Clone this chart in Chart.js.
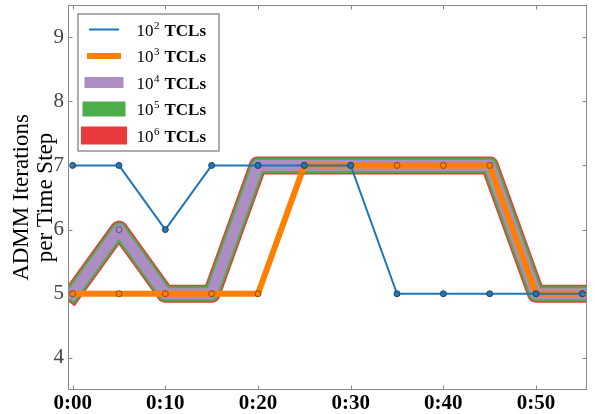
<!DOCTYPE html>
<html>
<head>
<meta charset="utf-8">
<script src="https://cdn.jsdelivr.net/npm/chart.js@4/dist/chart.umd.min.js"></script>
<style>
    html, body { margin: 0; padding: 0; background: #fff; }
    #wrap { width: 595px; height: 414px; position: relative; }
</style>
</head>
<body>
<div id="wrap"><canvas id="chart"></canvas></div>
<script>
// minutes after start, one point every 5 minutes
const timeMinutes = [0, 5, 10, 15, 20, 25, 30, 35, 40, 45, 50, 55];
const iters1e2 = [7, 7, 6, 7, 7, 7, 7, 5, 5, 5, 5, 5];
const iters1e3 = [5, 5, 5, 5, 5, 7, 7, 7, 7, 7, 5, 5];
const iters1e4 = [5, 6, 5, 5, 7, 7, 7, 7, 7, 7, 5, 5];
const iters1e5 = [5, 6, 5, 5, 7, 7, 7, 7, 7, 7, 5, 5];
const iters1e6 = [5, 6, 5, 5, 7, 7, 7, 7, 7, 7, 5, 5];
const tclExponents = ['2', '3', '4', '5', '6'];
const xTickValues = [0, 10, 20, 30, 40, 50];
const xTickLabels = ['0:00', '0:10', '0:20', '0:30', '0:40', '0:50'];
const yTickValues = [4, 5, 6, 7, 8, 9];
const yTitle = ['ADMM Iterations', 'per Time Step'];

(function () {
    var SERIF = "'Liberation Serif', 'DejaVu Serif', serif";
    var FRAME = '#888888';

    // drawn top to bottom: first dataset ends up on top
    var series = [
        { data: iters1e2, color: '#1f77b4', edge: '#16466b', width: 2 },
        { data: iters1e3, color: '#ff7f00', edge: '#8a4a12', width: 6 },
        { data: iters1e4, color: '#ad8ec4', edge: '#5f4e6e', width: 11 },
        { data: iters1e5, color: '#4dae49', edge: '#2b5f29', width: 15 },
        { data: iters1e6, color: '#e8393d', edge: '#7e2022', width: 18 },
    ];

    var datasets = series.map(function (s, i) {
        return {
            label: '10^' + tclExponents[i] + ' TCLs',
            data: s.data.map(function (v, j) {
                return { x: timeMinutes[j], y: v };
            }),
            borderColor: s.color,
            backgroundColor: s.color,
            borderWidth: s.width,
            borderJoinStyle: 'round',
            borderCapStyle: 'square',
            pointRadius: 3,
            pointBorderWidth: 1,
            pointBackgroundColor: s.color,
            pointBorderColor: s.edge,
            tension: 0,
            fill: false,
            clip: 0,
        };
    });

    // no extra room for half-labels, the plot box is fixed
    function noLabelPadding(scale) {
        scale.paddingTop = 0;
        scale.paddingBottom = 0;
        scale.paddingLeft = 0;
        scale.paddingRight = 0;
    }

    var framePlugin = {
        id: 'frame',
        afterDatasetsDraw: function (chart) {
            var ctx = chart.ctx;
            var a = chart.chartArea;
            var xs = chart.scales.x, ys = chart.scales.y;
            var l = Math.floor(a.left) + 0.5, r = Math.floor(a.right) - 0.5;
            var t = Math.floor(a.top) + 0.5, b = Math.floor(a.bottom) - 0.5;
            ctx.save();
            ctx.strokeStyle = FRAME;
            ctx.lineWidth = 1;
            ctx.strokeRect(l, t, r - l, b - t);
            ctx.beginPath();
            xTickValues.forEach(function (v) {
                var px = Math.round(xs.getPixelForValue(v)) + 0.5;
                ctx.moveTo(px, b); ctx.lineTo(px, b - 4);
                ctx.moveTo(px, t); ctx.lineTo(px, t + 4);
            });
            yTickValues.forEach(function (v) {
                var py = Math.round(ys.getPixelForValue(v)) + 0.5;
                ctx.moveTo(l, py); ctx.lineTo(l + 4, py);
                ctx.moveTo(r, py); ctx.lineTo(r - 4, py);
            });
            ctx.stroke();
            ctx.restore();
        },
    };

    var legendPlugin = {
        id: 'texLegend',
        afterDraw: function (chart) {
            var ctx = chart.ctx;
            ctx.save();
            ctx.fillStyle = '#fff';
            ctx.fillRect(78, 14, 141, 137);
            ctx.strokeStyle = '#777';
            ctx.lineWidth = 1.2;
            ctx.strokeRect(78, 14, 141, 137);
            chart.data.datasets.forEach(function (ds, i) {
                var y = 29.5 + i * 26.5;
                ctx.beginPath();
                ctx.strokeStyle = ds.borderColor;
                ctx.lineWidth = ds.borderWidth;
                ctx.lineCap = 'square';
                ctx.moveTo(90, y);
                ctx.lineTo(118, y);
                ctx.stroke();

                ctx.fillStyle = '#000';
                ctx.textBaseline = 'alphabetic';
                ctx.textAlign = 'left';
                ctx.font = '17px ' + SERIF;
                var x = 136.5;
                ctx.fillText('10', x, y + 6);
                x += ctx.measureText('10').width + 0.5;
                ctx.font = '11px ' + SERIF;
                ctx.fillText(tclExponents[i], x, y - 1);
                x += ctx.measureText(tclExponents[i]).width + 5;
                ctx.font = 'bold 17px ' + SERIF;
                ctx.fillText('TCLs', x, y + 6);
            });
            ctx.restore();
        },
    };

    new Chart(document.getElementById('chart'), {
        type: 'line',
        data: { datasets: datasets },
        plugins: [framePlugin, legendPlugin],
        options: {
            responsive: true,
            maintainAspectRatio: false,
            animation: false,
            devicePixelRatio: 1,
            layout: { padding: { top: 5, right: 8, left: 0, bottom: 0 } },
            plugins: {
                legend: { display: false },
                tooltip: { enabled: false },
            },
            scales: {
                x: {
                    type: 'linear',
                    min: -0.5,
                    max: 55.5,
                    afterBuildTicks: function (scale) {
                        scale.ticks = xTickValues.map(function (v) { return { value: v }; });
                    },
                    afterFit: function (scale) {
                        scale.height = 24;
                        noLabelPadding(scale);
                    },
                    ticks: {
                        autoSkip: false,
                        maxRotation: 0,
                        padding: 1,
                        color: '#000',
                        font: { family: SERIF, size: 21, weight: 'bold' },
                        callback: function (value) {
                            var k = xTickValues.indexOf(value);
                            return k >= 0 ? xTickLabels[k] : '';
                        },
                    },
                    grid: { display: false, drawTicks: false },
                    border: { display: false },
                },
                y: {
                    min: 3.5,
                    max: 9.5,
                    afterBuildTicks: function (scale) {
                        scale.ticks = yTickValues.map(function (v) { return { value: v }; });
                    },
                    afterFit: function (scale) {
                        scale.width = 68;
                        noLabelPadding(scale);
                    },
                    ticks: {
                        padding: 4,
                        color: '#444',
                        font: { family: SERIF, size: 21 },
                    },
                    title: {
                        display: true,
                        text: yTitle,
                        color: '#000',
                        font: { family: SERIF, size: 23, lineHeight: 1.05 },
                        padding: { top: 10, bottom: 0 },
                    },
                    grid: { display: false, drawTicks: false },
                    border: { display: false },
                },
            },
        },
    });
})();
</script>
</body>
</html>
